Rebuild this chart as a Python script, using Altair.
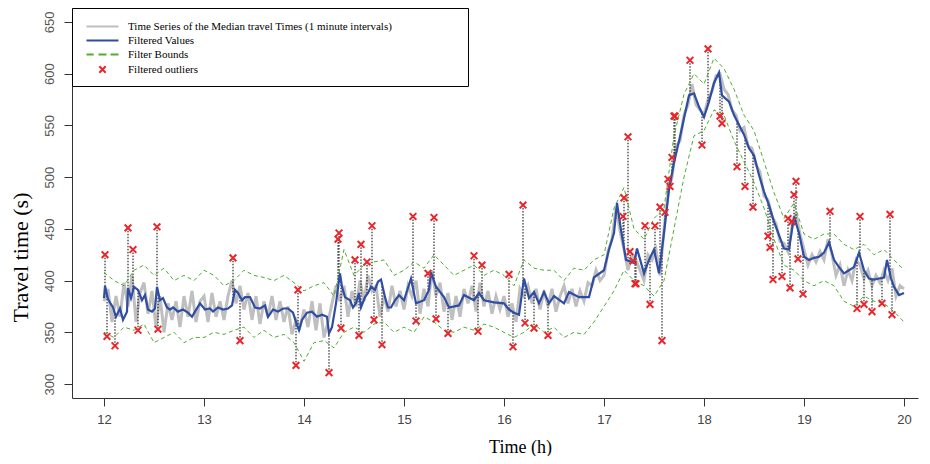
import altair as alt
import pandas as pd
import numpy as np

# ---------------- data ----------------
# Filtered values (blue): (hour, seconds)
blue_t = [12.00, 12.01, 12.04, 12.09, 12.12, 12.16, 12.19, 12.23, 12.24, 12.27, 12.30, 12.34, 12.38, 12.41,
          12.44, 12.48, 12.51, 12.53, 12.56, 12.59, 12.63, 12.66, 12.69, 12.74, 12.79, 12.84, 12.88, 12.91,
          12.96, 13.01, 13.06, 13.09, 13.14, 13.19, 13.24, 13.28, 13.31, 13.34, 13.38, 13.41, 13.46, 13.51,
          13.56, 13.61, 13.64, 13.69, 13.74, 13.79, 13.84, 13.89, 13.93, 13.95, 13.98, 14.03, 14.08, 14.13,
          14.18, 14.23, 14.25, 14.28, 14.32, 14.34, 14.36, 14.38, 14.41, 14.46, 14.49, 14.52, 14.55, 14.57,
          14.61, 14.64, 14.67, 14.71, 14.74, 14.77, 14.81, 14.84, 14.87, 14.91, 14.95, 15.00, 15.07, 15.12,
          15.20, 15.25, 15.27, 15.32, 15.40, 15.45, 15.55, 15.60, 15.70, 15.75, 15.80, 15.90, 16.00, 16.05,
          16.10, 16.15, 16.20, 16.25, 16.30, 16.35, 16.40, 16.45, 16.50, 16.60, 16.65, 16.75, 16.85, 16.90,
          17.00, 17.05, 17.10, 17.13, 17.17, 17.22, 17.30, 17.33, 17.40, 17.45, 17.50, 17.55, 17.60, 17.65,
          17.70, 17.76, 17.80, 17.85, 17.90, 17.95, 18.00, 18.05, 18.10, 18.15, 18.18, 18.25, 18.30, 18.40,
          18.45, 18.50, 18.55, 18.60, 18.65, 18.70, 18.75, 18.80, 18.85, 18.90, 18.95, 19.00, 19.05, 19.10,
          19.15, 19.20, 19.25, 19.30, 19.35, 19.40, 19.45, 19.50, 19.55, 19.60, 19.65, 19.70, 19.75, 19.80,
          19.83, 19.87, 19.90, 19.95, 20.00]
blue_v = [383, 395, 382, 374, 365, 373, 362, 370, 393, 383, 394, 391, 381, 386,
          372, 370, 373, 394, 381, 383, 374, 372, 374, 370, 372, 369, 365, 370,
          378, 372, 373, 370, 374, 372, 373, 376, 391, 388, 381, 384, 384, 374,
          373, 376, 365, 372, 370, 373, 373, 369, 357, 352, 362, 369, 370, 365,
          367, 365, 349, 355, 378, 393, 407, 394, 384, 381, 374, 378, 388, 374,
          384, 388, 394, 391, 399, 401, 384, 374, 374, 381, 386, 381, 402, 378,
          381, 391, 408, 394, 384, 374, 376, 386, 381, 388, 381, 379, 378, 372,
          369, 367, 402, 383, 389, 378, 389, 378, 385, 378, 389, 384, 384, 403,
          410, 430, 446, 475, 449, 420, 417, 431, 407, 420, 430, 407, 446, 488,
          514, 539, 557, 579, 581, 568, 558, 573, 591, 601, 579, 573, 560, 541,
          528, 521, 502, 486, 473, 457, 444, 431, 430, 462, 446, 423, 420, 422,
          423, 427, 437, 420, 413, 407, 410, 413, 427, 410, 402, 401, 402, 403,
          420, 402, 394, 386, 388]

# Raw median travel times (grey), one reading every 0.04 h from 12.00 to 20.00
gray_12 = [380, 392, 360, 385, 365, 398, 375, 405, 360, 388, 398, 368, 390, 355, 385, 350, 378, 362, 380, 355, 385, 365, 390, 360, 380]
gray_13 = [385, 360, 388, 365, 380, 362, 385, 400, 378, 395, 372, 388, 362, 385, 358, 380, 365, 385, 362, 380, 360, 375, 348, 362, 355]
gray_14 = [372, 355, 380, 352, 378, 345, 360, 378, 395, 380, 395, 365, 390, 375, 400, 380, 405, 390, 395, 365, 385, 370, 395, 375, 390]
gray_15 = [372, 395, 385, 400, 368, 392, 375, 410, 385, 398, 370, 388, 362, 385, 365, 392, 378, 395, 370, 398, 375, 390, 368, 385, 372]
gray_16 = [385, 365, 378, 360, 392, 385, 395, 378, 392, 372, 390, 375, 392, 370, 385, 395, 378, 392, 375, 390, 380, 398, 395, 410, 400]
gray_17 = [405, 428, 440, 470, 448, 430, 410, 425, 420, 410, 400, 425, 420, 430, 405, 450, 485, 500, 530, 535, 560, 570, 590, 570, 565]
gray_18 = [560, 575, 583, 598, 600, 585, 580, 565, 560, 545, 548, 530, 528, 512, 505, 482, 478, 462, 455, 438, 436, 428, 452, 465, 445]
gray_19 = [430, 415, 425, 418, 428, 420, 440, 425, 405, 415, 395, 410, 400, 420, 415, 402, 410, 395, 405, 398, 410, 400, 412, 385, 395]
gray_20 = [392]
gray_v = gray_12 + gray_13 + gray_14 + gray_15 + gray_16 + gray_17 + gray_18 + gray_19 + gray_20
gray_t = [round(12 + 0.04 * i, 2) for i in range(len(gray_v))]

# Filter bounds (green dashed), every 0.1 h
bound_t = [round(12 + 0.1 * i, 1) for i in range(81)]
upper = [408, 400, 395, 410, 415, 405, 412, 400, 405, 400,
         410, 405, 395, 400, 410, 405, 403, 400, 405, 398,
         390, 395, 398, 385, 430, 405, 415, 418, 420, 405,
         410, 418, 412, 425, 415, 405, 410, 415, 405, 410,
         405, 395, 420, 412, 410, 410, 400, 412, 410, 420,
         425, 470, 490, 450, 440, 460, 470, 540, 580, 600,
         590, 615, 605, 585, 560, 545, 515, 485, 460, 475,
         445, 440, 445, 445, 435, 430, 435, 425, 430, 420,
         410]
lower = [350, 345, 355, 352, 358, 340, 345, 350, 340, 345,
         345, 350, 348, 352, 355, 345, 352, 345, 348, 340,
         322, 340, 342, 335, 350, 355, 350, 358, 360, 350,
         355, 350, 365, 360, 352, 350, 355, 352, 358, 355,
         350, 345, 350, 358, 350, 355, 345, 350, 348, 360,
         375, 390, 410, 400, 395, 385, 400, 450, 500, 540,
         545, 565, 560, 535, 515, 495, 470, 440, 415, 410,
         400, 395, 400, 395, 380, 375, 385, 380, 378, 370,
         360]

# Filtered outliers (red X)
out_t = [12.01, 12.03, 12.11, 12.24, 12.29, 12.34, 12.53, 12.54, 13.29, 13.36,
         13.92, 13.94, 14.25, 14.34, 14.35, 14.37, 14.51, 14.55, 14.57, 14.63, 14.68, 14.70, 14.78,
         15.09, 15.12, 15.24, 15.30, 15.32, 15.44, 15.70, 15.74, 15.78, 16.05, 16.09, 16.19, 16.21, 16.30, 16.44,
         17.19, 17.20, 17.24, 17.26, 17.29, 17.31, 17.32, 17.41, 17.46, 17.51, 17.56, 17.58, 17.61, 17.64,
         17.66, 17.68, 17.70, 17.71,
         17.86, 17.98, 18.04, 18.16, 18.18, 18.33, 18.41, 18.49, 18.64, 18.66, 18.69, 18.78, 18.84, 18.86,
         18.88, 18.90, 18.92, 18.94, 18.99,
         19.26, 19.53, 19.56, 19.60, 19.68, 19.78, 19.86, 19.88]
out_v = [425, 346, 337, 451, 430, 352, 452, 353, 422, 342,
         318, 391, 311, 440, 446, 354, 420, 347, 435, 418, 453, 362, 338,
         462, 361, 407, 461, 363, 349, 424, 351, 415, 406, 336, 473, 359, 354, 347,
         462, 480, 539, 428, 419, 397, 397, 453, 377, 453, 471, 342, 466, 498,
         491, 519, 559, 559,
         613, 531, 624, 559, 552, 510, 491, 471, 443, 432, 401, 404, 460, 393,
         457, 483, 496, 421, 387,
         467, 373, 462, 377, 370, 378, 464, 367]

labels = ["Time Series of the Median travel Times (1 minute intervals)" + "\u00a0" * 24 + "\u200b",
          "Filtered Values", "Filter Bounds", "Filtered outliers"]

# ---------------- tables ----------------
df_gray = pd.DataFrame({"t": gray_t, "v": gray_v})
df_blue = pd.DataFrame({"t": blue_t, "v": blue_v})
df_bounds = pd.concat([
    pd.DataFrame({"t": bound_t, "v": upper, "b": "upper"}),
    pd.DataFrame({"t": bound_t, "v": lower, "b": "lower"}),
])
df_out = pd.DataFrame({"t": out_t, "v": out_v,
                       "v2": np.interp(out_t, blue_t, blue_v)})
df_leg = pd.DataFrame({"label": labels, "t": [11.0] * 4, "v": [800] * 4})

GRAY, BLUE, GREEN, RED = "#bfbfbf", "#2f4ea3", "#4fae2e", "#e8262b"
XPATH = "M-0.8,-0.8L0.8,0.8M-0.8,0.8L0.8,-0.8"

xs = alt.Scale(domain=[11.68, 20.14], nice=False, zero=False)
ys = alt.Scale(domain=[286.5, 663.5], nice=False, zero=False)

X = alt.X("t:Q", scale=xs, title="Time (h)",
          axis=alt.Axis(values=list(range(12, 21)), format="d", grid=False,
                        tickSize=8, tickColor="#333", domainColor="#333",
                        labelFont="Liberation Sans Narrow, Liberation Sans, Arial",
                        labelFontSize=13, labelColor="#444", labelPadding=7,
                        titleFont="Liberation Serif", titleFontSize=18,
                        titleFontWeight="normal", titleColor="black",
                        titleX=448, titleY=49, titleBaseline="middle", titleAlign="center"))
Y = alt.Y("v:Q", scale=ys, title="Travel time (s)",
          axis=alt.Axis(values=[300, 350, 400, 450, 500, 550, 600, 650], grid=False,
                        tickSize=8, tickColor="#333", domainColor="#333",
                        labelAngle=270, labelAlign="center", labelBaseline="bottom",
                        labelPadding=8, labelFont="Liberation Sans", labelFontSize=13,
                        labelColor="#555",
                        titleFont="Liberation Serif", titleFontSize=22,
                        titleFontWeight="normal", titleColor="black", titleAngle=270,
                        titleX=-52, titleY=249, titleAlign="center", titleBaseline="middle"))

gray = alt.Chart(df_gray).mark_line(color=GRAY, strokeWidth=3).encode(x=X, y=Y)
conn = alt.Chart(df_out).mark_rule(color="black", strokeWidth=1, strokeDash=[1.5, 1.5]).encode(
    x=X, y=Y, y2="v2:Q")
bounds = alt.Chart(df_bounds).mark_line(color=GREEN, strokeWidth=1, strokeDash=[4, 3]).encode(
    x=X, y=Y, detail="b:N")
blue = alt.Chart(df_blue).mark_line(color=BLUE, strokeWidth=2.2).encode(x=X, y=Y)
outl = alt.Chart(df_out).mark_point(shape=XPATH, size=70, color=RED, strokeWidth=2,
                                    filled=False, opacity=1).encode(x=X, y=Y)

leg_scale_c = alt.Scale(domain=labels, range=[GRAY, BLUE, GREEN, RED])
leg_scale_s = alt.Scale(domain=labels, range=[
    "M-4,0H4", "M-4,0H4", "M-4,0H-2.2M-1,0H1M2,0H4", XPATH])
legend = alt.Legend(title="\u00a0", titleFontSize=3, titlePadding=1,
                    orient="none", legendX=0, legendY=0,
                    fillColor="white", strokeColor="black", padding=9,
                    symbolSize=64, symbolStrokeWidth=2, symbolOffset=16,
                    labelFont="Liberation Serif", labelFontSize=11, labelColor="black",
                    labelLimit=600, labelOffset=20, rowPadding=2)
leg = alt.Chart(df_leg).mark_point(filled=False, opacity=1, strokeWidth=2, clip=True).encode(
    x=X, y=Y,
    color=alt.Color("label:N", scale=leg_scale_c, sort=labels, legend=legend),
    shape=alt.Shape("label:N", scale=leg_scale_s, sort=labels, legend=legend),
)

chart = alt.layer(gray, conn, bounds, blue, outl, leg).properties(
    width=846, height=390,
    autosize=alt.AutoSizeParams(type="none"),
    padding={"left": 64, "top": 0, "right": 4, "bottom": 58},
).configure_view(stroke=None)

chart.save("out.html", embed_options={"renderer": "svg", "actions": False})
